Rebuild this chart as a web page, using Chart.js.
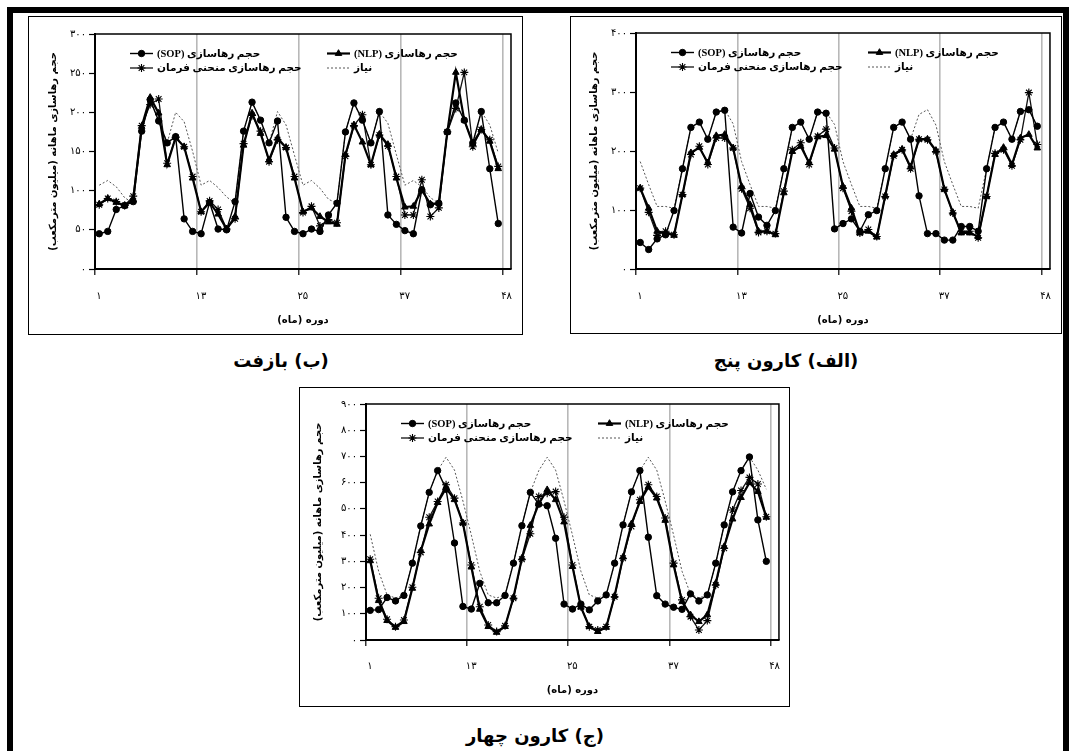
<!DOCTYPE html>
<html><head><meta charset="utf-8">
<script src="https://cdn.jsdelivr.net/npm/chart.js@4/dist/chart.umd.min.js"></script>
<style>
html,body{margin:0;padding:0;background:#fff;}
body{width:1079px;height:751px;position:relative;overflow:hidden;}
.frame{position:absolute;left:7px;top:7px;width:1050px;height:790px;border:6px solid #000;}
.box{position:absolute;border:1.5px solid #000;box-sizing:border-box;}
canvas{position:absolute;direction:rtl;}
.cap{position:absolute;font:bold 18px "DejaVu Sans";direction:rtl;white-space:nowrap;text-align:center;width:300px;line-height:24px;color:#000;}
</style></head>
<body>
<div class="frame"></div>
<div class="box" style="left:28px;top:16px;width:495px;height:319px"></div>
<div class="box" style="left:570px;top:16px;width:492px;height:318px"></div>
<div class="box" style="left:299px;top:387px;width:491px;height:320px"></div>
<canvas id="cB" width="495" height="319" style="left:28px;top:16px;width:495px;height:319px"></canvas>
<canvas id="cA" width="492" height="318" style="left:570px;top:16px;width:492px;height:318px"></canvas>
<canvas id="cC" width="491" height="320" style="left:299px;top:387px;width:491px;height:320px"></canvas>
<div class="cap" style="left:131px;top:349px">(ب) بازفت</div>
<div class="cap" style="left:636px;top:349px">(الف) کارون پنج</div>
<div class="cap" style="left:385px;top:724px">(ج) کارون چهار</div>
<script>
// ---- categories / ticks ----
const months = [1,2,3,4,5,6,7,8,9,10,11,12,13,14,15,16,17,18,19,20,21,22,23,24,25,26,27,28,29,30,31,32,33,34,35,36,37,38,39,40,41,42,43,44,45,46,47,48];
const xTickValues = [0.5, 12.5, 24.5, 36.5, 48.5];
const xTickLabels = ['۱', '۱۳', '۲۵', '۳۷', '۴۸'];
const seriesNames = ['حجم رهاسازی (SOP)', 'حجم رهاسازی (NLP)', 'حجم رهاسازی منحنی فرمان', 'نیاز'];
const yAxisTitle = 'حجم رهاسازی ماهانه (میلیون مترمکعب)';
const xAxisTitle = 'دوره (ماه)';

// ---- (ب) Bazoft ----
const sopB = [45,48,76,81,86,176,216,189,161,169,64,48, 45,85,51,50,86,176,213,190,161,189,66,48, 45,51,48,69,84,175,212,190,161,201,69,57, 49,45,101,82,84,175,212,190,161,201,128,58];
const nlpB = [83,90,85,81,88,182,219,199,133,168,156,116, 73,85,70,51,67,158,199,173,139,167,155,116, 73,78,67,60,57,146,184,162,133,172,159,116, 79,80,101,83,84,175,251,190,160,178,163,128];
const farB = [82,90,86,81,93,183,210,217,135,168,156,118, 73,87,76,51,64,160,196,176,137,165,155,118, 72,80,55,63,59,144,183,197,133,171,157,118, 69,69,114,67,78,175,205,251,156,178,165,131];
const demB = [107,113,105,91,84,176,216,189,161,200,188,150, 107,113,104,92,84,176,213,190,161,201,184,145, 107,113,103,89,84,175,212,190,161,201,186,146, 107,113,105,91,84,175,212,190,161,201,184,148];
const yTicksB = [0,50,100,150,200,250,300];

// ---- (الف) Karun 5 ----
const sopA = [45,33,51,58,99,170,240,249,220,266,269,71, 61,128,88,74,99,170,240,249,220,266,264,68, 77,85,64,92,99,170,240,249,220,124,60,60, 49,49,72,72,64,170,240,249,220,267,270,242];
const nlpA = [137,103,64,61,57,126,197,206,180,226,228,205, 140,109,64,64,58,129,199,208,180,224,226,203, 140,103,61,64,54,124,194,203,173,220,220,201, 135,96,61,61,55,123,194,206,177,222,228,205];
const farA = [137,96,57,64,58,126,194,208,177,222,222,205, 136,103,62,64,60,132,202,214,177,225,237,205, 137,98,61,67,55,123,192,202,170,220,219,199, 135,95,64,64,53,123,196,202,175,219,299,211];
const demA = [182,143,106,106,103,170,240,249,220,266,270,246, 182,143,106,106,103,170,240,249,220,266,266,245, 182,143,106,106,103,170,240,249,220,262,270,244, 182,143,106,106,103,170,240,249,220,267,270,242];
const yTicksA = [0,100,200,300,400];

// ---- (ج) Karun 4 ----
const sopC = [113,116,162,149,170,293,435,563,646,575,370,128, 118,216,142,142,170,293,436,563,518,512,388,137, 118,137,115,149,172,293,439,565,646,392,169,137, 125,117,176,149,172,293,439,565,646,698,458,300];
const nlpC = [302,150,74,48,70,197,340,442,524,579,535,446, 278,117,51,29,51,163,312,437,519,573,535,450, 280,125,51,32,48,169,316,443,528,583,541,456, 286,146,96,70,96,216,356,461,543,600,566,468];
const farC = [308,159,79,51,76,201,334,468,528,592,541,446, 286,127,57,32,54,159,308,405,547,560,566,468, 286,127,51,38,51,165,312,433,535,592,547,465, 293,153,89,38,74,210,350,496,570,620,595,470];
const demC = [403,262,172,160,172,293,437,563,646,697,648,530, 400,262,172,160,172,293,437,563,646,697,648,530, 400,262,172,160,172,293,439,565,646,697,648,530, 400,262,176,160,172,293,439,565,646,698,648,575];
const yTicksC = [0,100,200,300,400,500,600,700,800,900];

const faDigits = ['۰','۱','۲','۳','۴','۵','۶','۷','۸','۹'];
const toFa = n => String(n).replace(/[0-9]/g, d => faDigits[+d]);

const legendPlugin = {
  id: 'rtlLegend',
  afterDraw(chart) {
    const {ctx, chartArea: a} = chart;
    const layout = [[0,0,0],[1,1,0],[2,0,1],[3,1,1]];
    ctx.save();
    layout.forEach(([di, col, row]) => {
      const ds = chart.data.datasets[di];
      const x0 = a.left + (col === 0 ? 35 : 232);
      const y = a.top + 19.5 + row * 14.5;
      ctx.strokeStyle = ds.borderColor;
      ctx.lineWidth = ds.borderWidth;
      ctx.setLineDash(ds.borderDash || []);
      ctx.beginPath(); ctx.moveTo(x0, y); ctx.lineTo(x0 + 23, y); ctx.stroke();
      ctx.setLineDash([]);
      if (ds.pointRadius > 0) {
        ctx.fillStyle = ds.pointBackgroundColor;
        ctx.strokeStyle = ds.pointBorderColor;
        ctx.lineWidth = ds.pointBorderWidth;
        Chart.helpers.drawPoint(ctx, {pointStyle: ds.pointStyle, radius: ds.pointRadius, rotation: 0, borderWidth: ds.pointBorderWidth}, x0 + 11.5, y);
      }
      ctx.fillStyle = '#000';
      ctx.direction = 'rtl';
      ctx.textAlign = 'left';
      ctx.textBaseline = 'middle';
      ctx.font = 'bold 10.5px "Liberation Serif", "DejaVu Sans"';
      ctx.fillText(ds.label, x0 + 27, y + 0.5);
    });
    ctx.restore();
  }
};
const frameBorder = {
  id: 'frameBorder',
  afterDatasetsDraw(chart) {
    const {ctx, chartArea: a} = chart;
    ctx.save();
    ctx.strokeStyle = '#000'; ctx.lineWidth = 1.5;
    ctx.beginPath();
    ctx.moveTo(a.left, a.top); ctx.lineTo(a.right, a.top); ctx.lineTo(a.right, a.bottom);
    ctx.stroke();
    ctx.restore();
  }
};

function makeChart(id, box, plot, series, yTicks, tp) {
  const [sop, nlp, far, dem] = series;
  const yMax = yTicks[yTicks.length - 1];
  const step = yTicks[1] - yTicks[0];
  new Chart(document.getElementById(id), {
    type: 'line',
    data: {
      labels: months,
      datasets: [
        {label: seriesNames[0], data: sop, borderColor: '#000', borderWidth: 1.4, pointStyle: 'circle', pointRadius: 3.2, pointBackgroundColor: '#000', pointBorderColor: '#000', pointBorderWidth: 1, order: 2},
        {label: seriesNames[1], data: nlp, borderColor: '#000', borderWidth: 2.2, pointStyle: 'triangle', pointRadius: 3.8, pointBackgroundColor: '#000', pointBorderColor: '#000', pointBorderWidth: 1, order: 1},
        {label: seriesNames[2], data: far, borderColor: '#111', borderWidth: 1.3, pointStyle: 'star', pointRadius: 4, pointBackgroundColor: '#000', pointBorderColor: '#000', pointBorderWidth: 1.1, order: 3},
        {label: seriesNames[3], data: dem, borderColor: '#555', borderWidth: 1, borderDash: [2, 2], pointRadius: 0, pointStyle: 'line', pointBackgroundColor: '#555', pointBorderColor: '#555', pointBorderWidth: 1, order: 4}
      ]
    },
    options: {
      responsive: false, maintainAspectRatio: false, animation: false, devicePixelRatio: 1,
      layout: {padding: {left: 0, top: plot.t - box.t, right: box.r - plot.r, bottom: 0}},
      elements: {line: {tension: 0, fill: false}},
      plugins: {legend: {display: false}, tooltip: {enabled: false}},
      scales: {
        x: {
          type: 'linear', min: 0.5, max: 49.5,
          afterBuildTicks: s => { s.ticks = xTickValues.map(v => ({value: v})); },
          afterFit: s => { s.height = box.b - plot.b; },
          ticks: {callback: (v, i) => xTickLabels[i], autoSkip: false, maxRotation: 0, color: '#000', padding: tp.xtp, labelOffset: 4, font: {family: 'DejaVu Sans', size: 10}},
          grid: {color: c => c.index === 0 ? 'rgba(0,0,0,0)' : '#b8b8b8', lineWidth: 1.6, tickLength: 6, tickColor: '#000', tickWidth: 1.2, drawOnChartArea: true},
          border: {color: '#000', width: 2},
          title: {display: true, text: xAxisTitle, color: '#000', font: {family: 'DejaVu Sans', size: 10, weight: 'bold'}, padding: {top: 0, bottom: tp.xt}}
        },
        y: {
          min: 0, max: yMax,
          afterFit: s => { s.width = plot.l - box.l; },
          ticks: {stepSize: step, callback: v => toFa(v), color: '#000', padding: 3, font: {family: 'DejaVu Sans', size: 10}},
          grid: {drawOnChartArea: false, tickLength: 6, tickColor: '#000', tickWidth: 1.2},
          border: {color: '#000', width: 2},
          title: {display: true, text: yAxisTitle, color: '#000', font: {family: 'DejaVu Sans', size: 10, weight: 'bold'}, padding: {top: tp.yt, bottom: 0}}
        }
      }
    },
    plugins: [frameBorder, legendPlugin]
  });
}

makeChart('cB', {l: 28, t: 16, r: 523, b: 335}, {l: 95, t: 34, r: 517, b: 269}, [sopB, nlpB, farB, demB], yTicksB, {xtp: 15, xt: 9, yt: 19});
makeChart('cA', {l: 570, t: 16, r: 1062, b: 334}, {l: 636, t: 33, r: 1057, b: 269}, [sopA, nlpA, farA, demA], yTicksA, {xtp: 15, xt: 8, yt: 18});
makeChart('cC', {l: 299, t: 387, r: 790, b: 707}, {l: 366, t: 404, r: 785, b: 640}, [sopC, nlpC, farC, demC], yTicksC, {xtp: 14, xt: 11, yt: 13});
</script>
</body></html>
